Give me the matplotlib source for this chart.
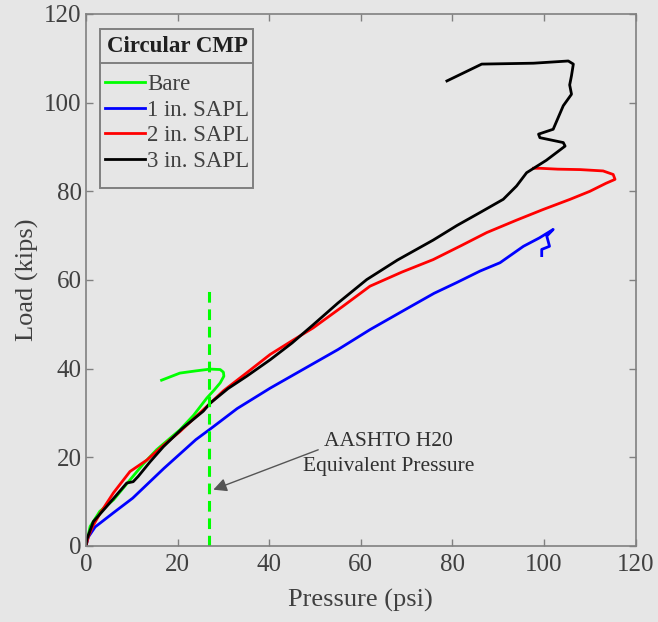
import matplotlib.pyplot as plt
from matplotlib.lines import Line2D
from matplotlib.patches import Rectangle
import numpy as np

plt.rcParams['font.family'] = ['Liberation Serif', 'DejaVu Serif']

# Bare
bare_p = [0, 0.9, 3.0, 6.0, 9.6, 12.5, 15.4, 18.0, 20.5, 23.5, 26.4, 28.0, 29.3, 30.1, 30.0, 29.3, 27.1, 24.0, 20.5, 16.5]
bare_l = [0, 4.4, 7.8, 10.4, 14.9, 18.5, 21.7, 24.0, 26.2, 29.5, 33.4, 35.2, 36.8, 38.3, 39.2, 39.8, 39.9, 39.5, 39.0, 37.4]

# 1 in. SAPL
s1_p = [0, 0.5, 2.0, 6.0, 10.2, 17.0, 24.0, 27.4, 33.0, 40.2, 47.0, 55.0, 62.0, 70.0, 76.0, 80.9, 86.0,
        90.4, 95.5, 99.0, 102.0, 100.6, 101.2, 99.5, 99.5]
s1_l = [0, 2.0, 4.3, 7.5, 10.8, 17.5, 24.0, 26.6, 31.0, 35.6, 39.6, 44.3, 48.8, 53.5, 57.0, 59.4, 62.0,
        63.9, 67.6, 69.5, 71.4, 69.9, 67.6, 66.9, 65.5]

# 2 in. SAPL
s2_p = [0, 0.5, 1.5, 3.1, 6.0, 9.6, 13.3, 17.0, 20.5, 26.4, 30.0, 35.0, 40.2, 45.0, 49.6, 56.0, 62.0, 69.0,
        75.8, 82.0, 87.5, 94.0, 99.8, 105.7, 110.0, 113.5, 115.5, 115.1, 112.9, 107.9, 103.0, 99.1, 97.7]
s2_l = [0, 2.1, 4.5, 7.4, 12.0, 16.8, 19.4, 22.8, 25.8, 31.5, 35.0, 39.0, 43.2, 46.3, 49.2, 54.0, 58.6, 61.8,
        64.6, 67.8, 70.7, 73.5, 75.9, 78.2, 80.0, 81.8, 82.7, 83.8, 84.6, 84.9, 85.0, 85.2, 85.2]

# 3 in. SAPL
s3_p = [0, 0.15, 1.6, 4.5, 8.9, 10.3, 11.4, 14.0, 16.9, 21.0, 25.6, 27.1, 31.0, 35.1, 40.2, 45.0, 49.6,
        55.0, 61.3, 68.0, 75.8, 81.0, 86.0, 91.1, 94.0, 96.2, 100.5, 104.6, 104.2, 99.1, 98.8, 102.0,
        104.2, 106.0, 105.6, 106.0, 106.4, 105.3, 97.7, 86.4, 78.8]
s3_l = [0, 1.4, 5.5, 8.9, 14.2, 14.5, 15.7, 19.0, 22.4, 26.5, 30.4, 32.2, 35.5, 38.3, 42.0, 45.8, 49.9,
        54.8, 60.1, 64.5, 69.0, 72.3, 75.2, 78.2, 81.2, 84.2, 87.0, 90.2, 91.0, 92.1, 92.9, 94.0,
        99.3, 101.9, 104.0, 106.1, 108.7, 109.4, 108.9, 108.7, 104.9]

h20_pressure = 26.8
h20_top = 58.5

bg = '#e6e6e6'
txt = '#404040'
fig = plt.figure(figsize=(6.58, 6.22), dpi=100, facecolor=bg)
ax = fig.add_axes([0.1307, 0.1222, 0.8353, 0.8553])
ax.set_facecolor(bg)

ax.plot(bare_p, bare_l, color='#00ff00', lw=2, label='Bare')
ax.plot(s1_p, s1_l, color='#0000ff', lw=2, label='1 in. SAPL')
ax.plot(s2_p, s2_l, color='#ff0000', lw=2, label='2 in. SAPL')
ax.plot(s3_p, s3_l, color='#000000', lw=2, label='3 in. SAPL')
ax.plot([h20_pressure, h20_pressure], [0, h20_top], color='#00ff00', lw=2.2, ls=(0, (3.5, 2.2)))

ax.text(66, 20.7, 'AASHTO H20\nEquivalent Pressure', ha='center', va='center', fontsize=15.5,
        color='#303030', linespacing=1.4)
ax.annotate('', xy=(27.8, 12.7), xytext=(50.7, 21.7),
            arrowprops=dict(arrowstyle='-|>', color='#555555', lw=1, mutation_scale=20,
                            shrinkA=0, shrinkB=0))

ax.set_xlim(0, 120)
ax.set_ylim(0, 120)
ax.set_xticks(np.arange(0, 121, 20))
ax.set_yticks(np.arange(0, 121, 20))
ax.tick_params(direction='in', top=True, right=True, length=5, width=1, color='#808080',
               labelsize=18, labelcolor=txt)
ax.tick_params(axis='x', pad=6)
ax.tick_params(axis='y', pad=3)
for s in ax.spines.values():
    s.set_color('#808080')
    s.set_linewidth(1.2)

ax.set_xlabel('Pressure (psi)', fontsize=19, color=txt, labelpad=9)
ax.set_ylabel('Load (kips)', fontsize=19, color=txt, labelpad=4)

leg = ax.legend(loc='upper left', bbox_to_anchor=(0.034, 0.958), fontsize=16.5, title='Circular CMP',
                title_fontproperties={'weight': 'bold', 'size': 16.5}, frameon=False,
                handlelength=1.75, handletextpad=0.1, borderpad=0, labelspacing=0.2, borderaxespad=0)
for t in leg.get_texts():
    t.set_color(txt)
leg.get_title().set_color('#202020')
leg._legend_box.sep = 12

# MATLAB style frame with a line under the title
fig.canvas.draw()
W, H = fig.bbox.width, fig.bbox.height
lb = leg.get_window_extent()
tb = leg.get_title().get_window_extent()
x0, x1 = lb.x0 - 5, lb.x1 + 4
y0, y1 = lb.y0 - 16, lb.y1 + 7
fig.add_artist(Rectangle((x0 / W, y0 / H), (x1 - x0) / W, (y1 - y0) / H, transform=fig.transFigure,
                         facecolor='none', edgecolor='#808080', lw=1.4, zorder=6))
ysep = tb.y0 - 6
fig.add_artist(Line2D([x0 / W, x1 / W], [ysep / H, ysep / H], color='#808080', lw=1.4, zorder=6))

fig.savefig('out.png', dpi=100, facecolor=bg)
